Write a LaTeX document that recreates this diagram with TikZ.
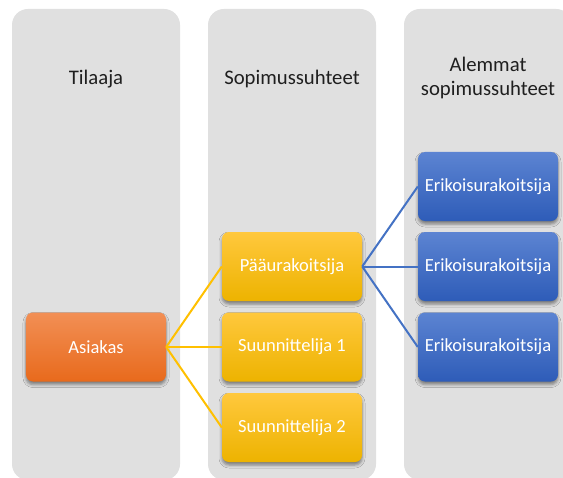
\documentclass[tikz,border=0pt]{standalone}
\usepackage{fontspec}
\setmainfont{Carlito}
\usetikzlibrary{shadows,shadows.blur}
\definecolor{colbg}{HTML}{E0E0E0}
\definecolor{orgtop}{HTML}{F28F55}
\definecolor{orgbot}{HTML}{E86A1C}
\definecolor{yeltop}{HTML}{FFC83D}
\definecolor{yelbot}{HTML}{EDB300}
\definecolor{blutop}{HTML}{5C84D2}
\definecolor{blubot}{HTML}{2E5CB8}
\definecolor{yline}{HTML}{FFC000}
\definecolor{bline}{HTML}{4472C4}
\tikzset{
  colbox/.style={fill=colbg, draw=none, rounded corners=16bp},
  head/.style={font=\fontsize{20.8}{25}\selectfont, text=black!88, align=center},
  card/.style={minimum width=140bp, minimum height=69bp, rounded corners=7bp,
    draw=none, text=white, font=\fontsize{18.6}{22}\selectfont,
    blur shadow={shadow xshift=0bp, shadow yshift=-3bp, shadow blur radius=3bp, shadow opacity=45}},
  orgcard/.style={card, top color=orgtop, bottom color=orgbot},
  yelcard/.style={card, top color=yeltop, bottom color=yelbot},
  blucard/.style={card, top color=blutop, bottom color=blubot},
  yconn/.style={draw=yline, line width=2bp},
  bconn/.style={draw=bline, line width=2bp},
}
\begin{document}
\begin{tikzpicture}[x=1bp, y=-1bp]
\useasboundingbox (0,0) rectangle (563,478);
\fill[white] (0,0) rectangle (563,478);
\begin{scope}
\clip (0,0) rectangle (563,478);
\path[colbox] (12,9) rectangle (180,480);
\path[colbox] (208,9) rectangle (376,480);
\path[colbox] (404,9) rectangle (572,480);
\end{scope}
\node[head] (h1) at (96,79) {Tilaaja};
\node[head] (h2) at (292,79) {Sopimussuhteet};
\node[head] (h3) at (488,78) {Alemmat\\sopimussuhteet};

\node[orgcard] (asiakas) at (96,347) {Asiakas};
\node[yelcard] (paa) at (292,266.5) {Pääurakoitsija};
\node[yelcard] (s1) at (292,347) {Suunnittelija 1};
\node[yelcard] (s2) at (292,427.5) {Suunnittelija 2};
\node[blucard] (e1) at (488,186.5) {Erikoisurakoitsija};
\node[blucard] (e2) at (488,266.5) {Erikoisurakoitsija};
\node[blucard] (e3) at (488,347) {Erikoisurakoitsija};

\draw[yconn] (asiakas.east) -- (paa.west);
\draw[yconn] (asiakas.east) -- (s1.west);
\draw[yconn] (asiakas.east) -- (s2.west);
\draw[bconn] (paa.east) -- (e1.west);
\draw[bconn] (paa.east) -- (e2.west);
\draw[bconn] (paa.east) -- (e3.west);
\end{tikzpicture}
\end{document}
